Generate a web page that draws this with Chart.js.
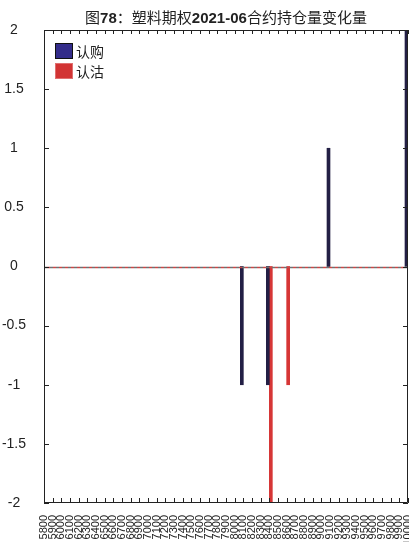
<!DOCTYPE html>
<html>
<head>
<meta charset="utf-8">
<script src="https://cdn.jsdelivr.net/npm/chart.js@4.4.0/dist/chart.umd.min.js"></script>
<style>
  html, body { margin: 0; padding: 0; background: #fff; overflow: hidden; }
  #wrap { position: relative; width: 409px; height: 542px; }
  #title { position: absolute; left: 44px; width: 364px; top: 6px; text-align: center;
           font-family: "Noto Sans CJK SC", sans-serif; font-size: 15px; color: #222; white-space: nowrap; }
  #title b { font-family: "Liberation Sans", Arial, sans-serif; font-weight: bold; }
  #legend { position: absolute; left: 55px; top: 41px; font-family: "Noto Sans CJK SC", sans-serif;
            font-size: 14px; color: #222; }
  .item { display: flex; align-items: center; height: 20px; }
  .sw { width: 16px; height: 14px; margin-right: 3px; border: 1px solid; }
</style>
</head>
<body>
<div id="wrap">
  <canvas id="c" width="409" height="542"></canvas>
  <div id="title">图<b>78</b>：塑料期权<b>2021-06</b>合约持仓量变化量</div>
  <div id="legend"></div>
</div>
<script>
// Strike prices (categories)
const strikes = ["5800","5900","6000","6100","6200","6300","6400","6500","6600","6700",
  "6800","6900","7000","7100","7200","7300","7400","7500","7600","7700",
  "7800","7900","8000","8100","8200","8300","8400","8500","8600","8700",
  "8800","8900","9000","9100","9200","9300","9400","9500","9600","9700",
  "9800","9900","10000"];
// Change in open interest (null = no change drawn)
const callChange = [null,null,null,null,null,null,null,null,null,null,
  null,null,null,null,null,null,null,null,null,null,
  null,null,null,-1,null,null,-1,null,null,null,
  null,null,null,1,null,null,null,null,null,null,
  null,null,2];
const putChange = [null,null,null,null,null,null,null,null,null,null,
  null,null,null,null,null,null,null,null,null,null,
  null,null,null,null,null,null,-2,null,-1,null,
  null,null,null,null,null,null,null,null,null,null,
  null,null,null];
const seriesNames = ["认购", "认沽"];
const yTicks = [-2, -1.5, -1, -0.5, 0, 0.5, 1, 1.5, 2];

const callColor = "#231f45", callLegend = "#332c8a";
const putColor = "#d63636", putLegend = "#d23434";

const boxPlugin = {
  id: 'box',
  afterDatasetsDraw(chart) {
    const {ctx, chartArea: a, scales: {x, y}} = chart;
    ctx.save();
    // zero line
    const y0 = Math.round(y.getPixelForValue(0)) + 0.5;
    ctx.lineWidth = 1.3;
    ctx.strokeStyle = "#707070";
    ctx.setLineDash([3, 3]);
    ctx.beginPath(); ctx.moveTo(a.left, y0); ctx.lineTo(a.right, y0); ctx.stroke();
    ctx.strokeStyle = "#c84848";
    ctx.lineDashOffset = 3;
    ctx.beginPath(); ctx.moveTo(a.left, y0); ctx.lineTo(a.right, y0); ctx.stroke();
    ctx.setLineDash([]);
    ctx.lineWidth = 1;
    // box
    ctx.strokeStyle = "#222";
    ctx.beginPath();
    ctx.moveTo(a.left + 0.5, a.top + 0.5); ctx.lineTo(a.right - 0.5, a.top + 0.5);
    ctx.lineTo(a.right - 0.5, a.bottom - 0.5); ctx.lineTo(a.left + 0.5, a.bottom - 0.5);
    ctx.closePath(); ctx.stroke();
    // inward ticks
    ctx.beginPath();
    x.ticks.forEach((t, i) => {
      const px = Math.round(x.getPixelForTick(i)) + 0.5;
      ctx.moveTo(px, a.bottom); ctx.lineTo(px, a.bottom - 5);
      ctx.moveTo(px, a.top); ctx.lineTo(px, a.top + 4);
    });
    y.ticks.forEach((t, i) => {
      const py = Math.round(y.getPixelForTick(i)) + 0.5;
      ctx.moveTo(a.left, py); ctx.lineTo(a.left + 5, py);
      ctx.moveTo(a.right, py); ctx.lineTo(a.right - 5, py);
    });
    ctx.stroke();
    ctx.restore();
  }
};

const chart = new Chart(document.getElementById('c'), {
  type: 'bar',
  data: {
    labels: strikes,
    datasets: [
      { label: seriesNames[0], data: callChange, backgroundColor: callColor, barThickness: 3 },
      { label: seriesNames[1], data: putChange, backgroundColor: putColor, barThickness: 3 }
    ]
  },
  options: {
    responsive: false,
    animation: false,
    layout: { padding: { top: 30, right: 1, left: 0, bottom: 0 } },
    plugins: { legend: { display: false }, title: { display: false }, tooltip: { enabled: false } },
    scales: {
      x: {
        offset: false,
        grid: { display: false, offset: false },
        border: { display: false },
        ticks: {
          autoSkip: false, maxRotation: 90, minRotation: 90, padding: 4,
          color: '#222', font: { family: "Liberation Sans", size: 11 }
        },
        afterFit(s) { s.height = 39; s.paddingRight = 0; s.paddingLeft = 0; }
      },
      y: {
        min: -2, max: 2,
        afterBuildTicks(s) { s.ticks = yTicks.map(v => ({ value: v })); },
        grid: { display: false },
        border: { display: false },
        ticks: {
          color: '#222', padding: 10, crossAlign: 'center',
          font: { family: "Liberation Sans", size: 14 },
          callback: (v) => String(v)
        },
        afterFit(s) { s.width = 44; s.paddingTop = 0; }
      }
    }
  },
  plugins: [boxPlugin]
});

// legend built from dataset names & colours
const lg = document.getElementById('legend');
[[seriesNames[0], callLegend, "#111"], [seriesNames[1], putLegend, "#e07070"]].forEach(([n, c, b]) => {
  const d = document.createElement('div'); d.className = 'item';
  d.innerHTML = '<span class="sw" style="background:' + c + ';border-color:' + b + '"></span>' + n;
  lg.appendChild(d);
});
</script>
</body>
</html>
